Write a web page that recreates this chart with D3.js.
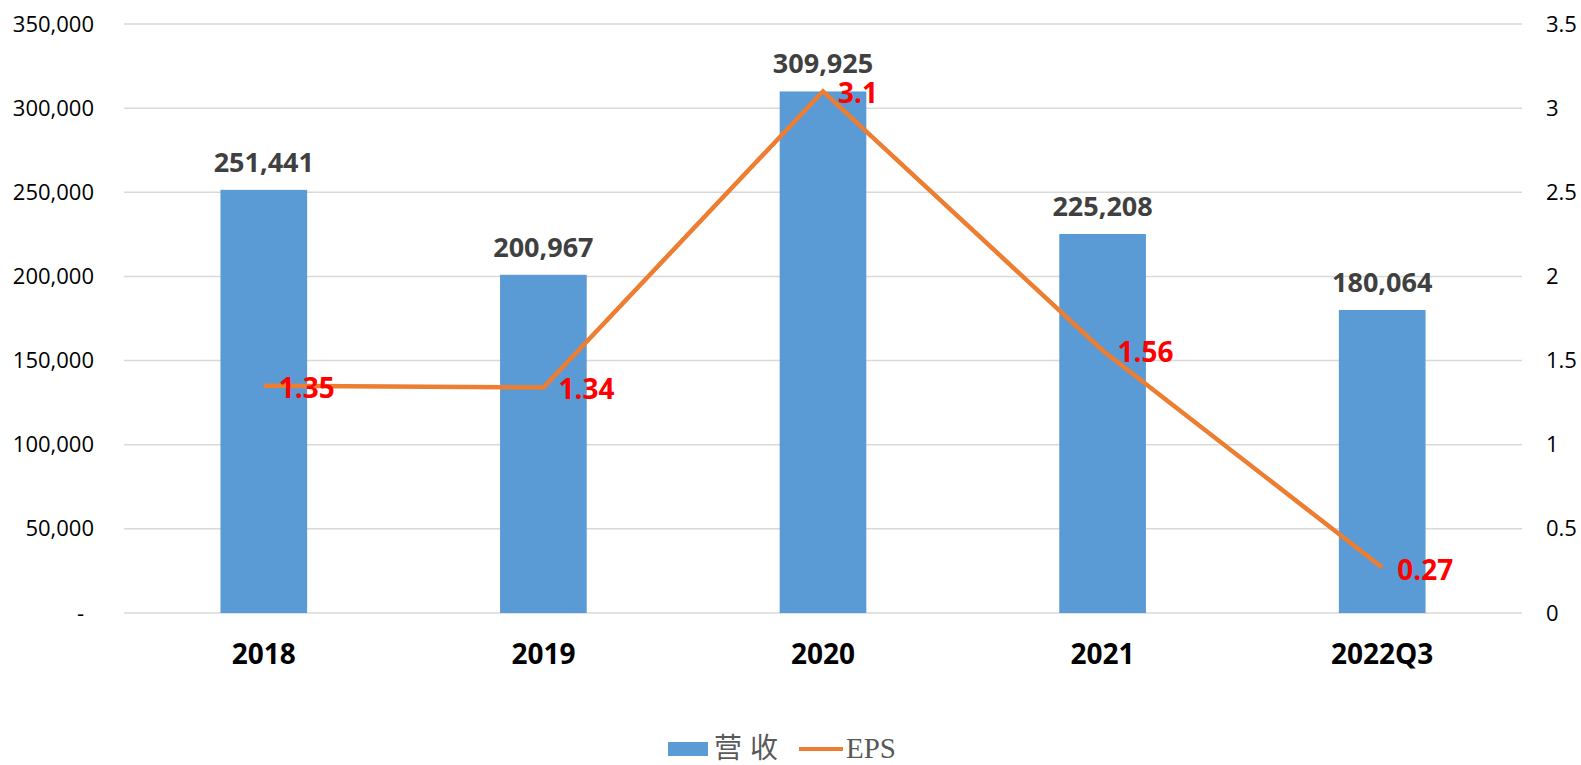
<html>
<head>
<meta charset="utf-8">
<script src="https://d3js.org/d3.v7.min.js"></script>
<style>
body { margin: 0; background: #fff; }
text { font-family: "Open Sans", "Noto Sans CJK SC", sans-serif; }
</style>
</head>
<body>
<svg id="chart" width="1581" height="765"></svg>
<script>
var categories = ["2018", "2019", "2020", "2021", "2022Q3"];
var revenue = [251441, 200967, 309925, 225208, 180064];
var eps = [1.35, 1.34, 3.1, 1.56, 0.27];
var leftTicks = [0, 50000, 100000, 150000, 200000, 250000, 300000, 350000];
var rightTicks = [0, 0.5, 1, 1.5, 2, 2.5, 3, 3.5];

var svg = d3.select("#chart");
var plotLeft = 124, plotRight = 1522, plotTop = 24, plotBottom = 613;

var x = d3.scaleBand().domain(categories).range([plotLeft, plotRight]).paddingInner(0.69).paddingOuter(0.345);
var y = d3.scaleLinear().domain([0, 350000]).range([plotBottom, plotTop]);
var y2 = d3.scaleLinear().domain([0, 3.5]).range([plotBottom, plotTop]);

// gridlines
svg.append("g").selectAll("line").data(leftTicks).enter().append("line")
  .attr("x1", plotLeft).attr("x2", plotRight)
  .attr("y1", function(d){ return y(d); }).attr("y2", function(d){ return y(d); })
  .attr("stroke", "#d9d9d9").attr("stroke-width", 1.5);

// left axis
var fmt = d3.format(",");
var ga = svg.append("g").attr("transform", "translate(" + (plotLeft - 30) + ",0)")
  .call(d3.axisLeft(y).tickValues(leftTicks).tickSize(0).tickPadding(0)
    .tickFormat(function(d){ return d === 0 ? "-" : fmt(d); }));
ga.select(".domain").remove();
ga.selectAll("text").attr("font-size", 22).attr("fill", "#000").style("font-family", "Open Sans")
  .attr("dx", function(d){ return d === 0 ? -10 : 0; });

// right axis
var gr = svg.append("g").attr("transform", "translate(" + (plotRight + 24) + ",0)")
  .call(d3.axisRight(y2).tickValues(rightTicks).tickSize(0).tickPadding(0)
    .tickFormat(function(d){ return String(d); }));
gr.select(".domain").remove();
gr.selectAll("text").attr("font-size", 22).attr("fill", "#000").style("font-family", "Open Sans");

// bars
svg.append("g").selectAll("rect").data(revenue).enter().append("rect")
  .attr("x", function(d, i){ return x(categories[i]); })
  .attr("width", x.bandwidth())
  .attr("y", function(d){ return y(d); })
  .attr("height", function(d){ return plotBottom - y(d); })
  .attr("fill", "#5b9bd5");

// bar labels
svg.append("g").selectAll("text").data(revenue).enter().append("text")
  .attr("x", function(d, i){ return x(categories[i]) + x.bandwidth() / 2; })
  .attr("y", function(d){ return y(d) - 18; })
  .attr("text-anchor", "middle")
  .attr("font-size", 27).attr("font-weight", "bold").attr("fill", "#404040")
  .text(function(d){ return fmt(d); });

// category labels
svg.append("g").selectAll("text").data(categories).enter().append("text")
  .attr("x", function(d){ return x(d) + x.bandwidth() / 2; })
  .attr("y", 664)
  .attr("text-anchor", "middle")
  .attr("font-size", 28).attr("font-weight", "bold").attr("fill", "#000")
  .text(function(d){ return d; });

// EPS line
var line = d3.line()
  .x(function(d, i){ return x(categories[i]) + x.bandwidth() / 2; })
  .y(function(d){ return y2(d); });
svg.append("path").datum(eps)
  .attr("d", line).attr("fill", "none")
  .attr("stroke", "#ed7d31").attr("stroke-width", 4.5);

// EPS labels
svg.append("g").selectAll("text").data(eps).enter().append("text")
  .attr("x", function(d, i){ return x(categories[i]) + x.bandwidth() / 2 + 15; })
  .attr("y", function(d){ return y2(d) + 12; })
  .attr("font-size", 28).attr("font-weight", "bold").attr("fill", "#ff0000")
  .text(function(d){ return d; });

// legend
var lg = svg.append("g");
lg.append("rect").attr("x", 668).attr("y", 742).attr("width", 40).attr("height", 14).attr("fill", "#5b9bd5");
lg.append("text").attr("x", 714).attr("y", 758)
  .attr("font-size", 28).attr("fill", "#595959").attr("letter-spacing", 8)
  .style("font-family", "'Noto Sans CJK SC'").text("营收");
lg.append("line").attr("x1", 799).attr("x2", 843).attr("y1", 749).attr("y2", 749)
  .attr("stroke", "#ed7d31").attr("stroke-width", 4);
lg.append("text").attr("x", 846).attr("y", 758)
  .attr("font-size", 29).attr("fill", "#595959")
  .style("font-family", "'Liberation Serif'").text("EPS");
</script>
</body>
</html>
